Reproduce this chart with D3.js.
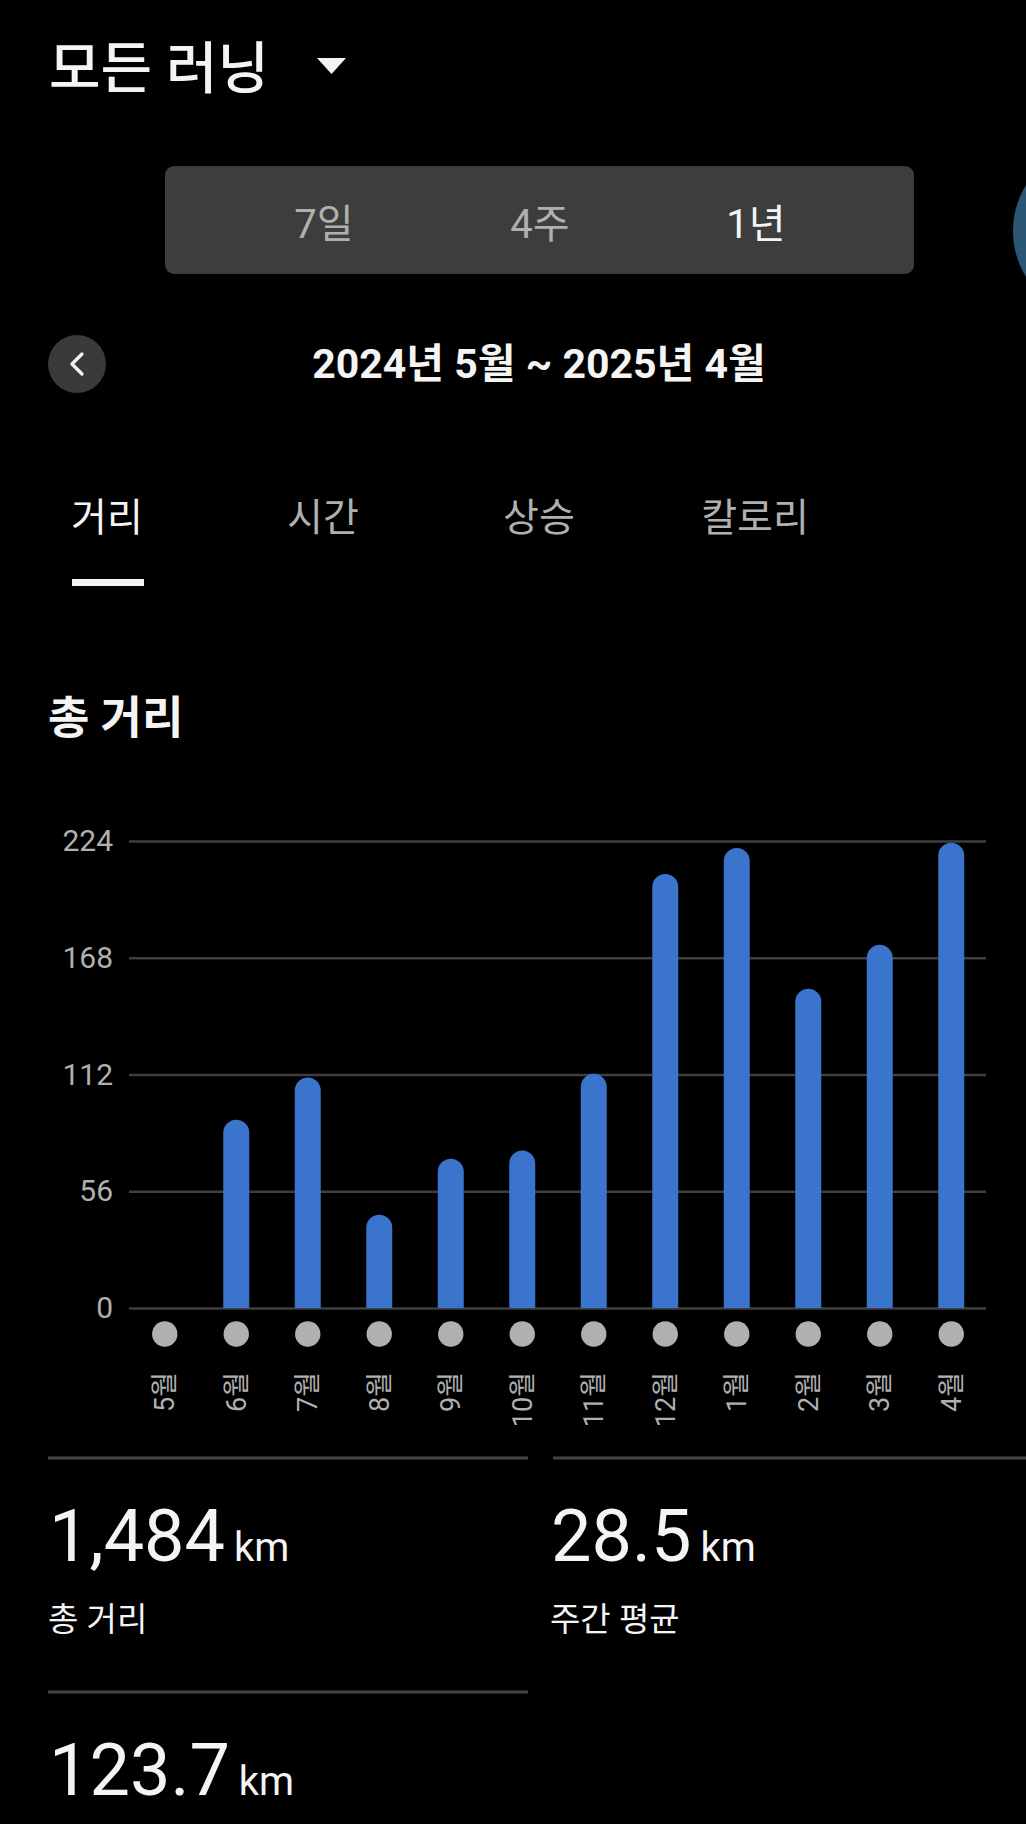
<!DOCTYPE html>
<html>
<head>
<meta charset="utf-8">
<script src="https://cdn.jsdelivr.net/npm/d3@7"></script>
<style>
  html, body { margin: 0; padding: 0; background: #000; }
  svg { display: block; }
  text { font-family: Roboto, "Noto Sans CJK KR", sans-serif; }
</style>
</head>
<body>
<svg id="chart" width="1026" height="1824"></svg>
<script>
// ---- data ----
const months = ["5월","6월","7월","8월","9월","10월","11월","12월","1월","2월","3월","4월"];
const distances = [0, 90.3, 110.6, 44.7, 71.6, 75.6, 112.3, 208.2, 220.7, 153.1, 174.2, 223.2];
const yTicks = [0, 56, 112, 168, 224];
const periodTabs = ["7일", "4주", "1년"];
const metricTabs = ["거리", "시간", "상승", "칼로리"];
const statValues = ["1,484", "28.5", "123.7"];
const statUnits = ["km", "km", "km"];
const statLabels = ["총 거리", "주간 평균", ""];

const svg = d3.select("#chart");
const WHITE = "#f4f4f4", GREY = "#b0b0b0";

// ---- header ----
svg.append("text").attr("x", 49).attr("y", 88)
  .attr("font-size", 56).attr("font-weight", 500).attr("fill", WHITE).text("모든 러닝");
svg.append("path").attr("d", "M317,58 L346,58 L331.5,74 Z").attr("fill", WHITE);

// segmented control
svg.append("rect").attr("x", 165).attr("y", 166).attr("width", 749).attr("height", 108)
  .attr("rx", 9).attr("fill", "#3d3d3d");
const segX = d3.scalePoint().domain(periodTabs).range([324, 756]);
svg.selectAll("text.seg").data(periodTabs).join("text").attr("class", "seg")
  .attr("x", d => segX(d)).attr("y", 238).attr("text-anchor", "middle")
  .attr("font-size", 40).attr("fill", (d, i) => i === 2 ? WHITE : GREY).text(d => d);

// partial circle on right edge
svg.append("circle").attr("cx", 1101).attr("cy", 231).attr("r", 88).attr("fill", "#2c5676");

// back button
svg.append("circle").attr("cx", 77).attr("cy", 364).attr("r", 29).attr("fill", "#3a3a3a");
svg.append("path").attr("d", "M82,354 L72,364 L82,374").attr("fill", "none")
  .attr("stroke", WHITE).attr("stroke-width", 3.2).attr("stroke-linecap", "round").attr("stroke-linejoin", "round");
svg.append("text").attr("x", 539).attr("y", 378).attr("text-anchor", "middle")
  .attr("font-size", 41).attr("font-weight", 700).attr("fill", WHITE).text("2024년 5월 ~ 2025년 4월");

// metric tabs
const tabX = d3.scalePoint().domain(metricTabs).range([107, 755]);
svg.selectAll("text.tab").data(metricTabs).join("text").attr("class", "tab")
  .attr("x", d => tabX(d)).attr("y", 531).attr("text-anchor", "middle")
  .attr("font-size", 39).attr("fill", (d, i) => i === 0 ? WHITE : GREY).text(d => d);
svg.append("rect").attr("x", 72).attr("y", 579).attr("width", 72).attr("height", 7).attr("fill", WHITE);

svg.append("text").attr("x", 48).attr("y", 734)
  .attr("font-size", 45).attr("font-weight", 700).attr("fill", WHITE).text("총 거리");

// ---- chart ----
const x = d3.scalePoint().domain(months).range([129, 987]).padding(0.5);
const y = d3.scaleLinear().domain([0, 224]).range([1308, 841]);

const yAxis = svg.append("g").attr("transform", "translate(129,0)")
  .call(d3.axisLeft(y).tickValues(yTicks).tickSize(-(986 - 129)).tickPadding(16).tickFormat(d3.format("d")));
yAxis.select(".domain").remove();
yAxis.selectAll(".tick line").attr("stroke", "#3f3f3f").attr("stroke-width", 2.6);
yAxis.selectAll(".tick text").attr("fill", GREY).attr("font-size", 30)
  .attr("font-family", "Roboto, sans-serif");

const bw = 26, r = bw / 2;
svg.append("g").selectAll("path").data(months.map((m, i) => ({ m, v: distances[i] })).filter(d => d.v > 0))
  .join("path")
  .attr("fill", "#3a74cc")
  .attr("d", d => {
    const cx = x(d.m), y0 = y(0), yt = y(d.v);
    return `M${cx - r},${y0} L${cx - r},${yt + r} A${r},${r} 0 0 1 ${cx + r},${yt + r} L${cx + r},${y0} Z`;
  });

// month dots
svg.append("g").selectAll("circle").data(months).join("circle")
  .attr("cx", d => x(d)).attr("cy", 1334).attr("r", 12.7).attr("fill", "#b0b0b0");

// month labels
svg.append("g").selectAll("text").data(months).join("text")
  .attr("transform", d => `translate(${x(d)},1372) rotate(-90)`)
  .attr("text-anchor", "end").attr("dy", "0.36em")
  .attr("font-size", 27).attr("fill", GREY).text(d => d);

// ---- stats ----
const sep = [
  { x1: 48, x2: 528, y: 1458 },
  { x1: 553, x2: 1026, y: 1458 },
  { x1: 48, x2: 528, y: 1692 }
];
svg.append("g").selectAll("line").data(sep).join("line")
  .attr("x1", d => d.x1).attr("x2", d => d.x2).attr("y1", d => d.y).attr("y2", d => d.y)
  .attr("stroke", "#444").attr("stroke-width", 3);

const statPos = [{ x: 49, y: 1561 }, { x: 551, y: 1561 }, { x: 49, y: 1795 }];
statValues.forEach((v, i) => {
  const p = statPos[i];
  const t = svg.append("text").attr("x", p.x).attr("y", p.y)
    .attr("font-size", 72).attr("fill", WHITE).text(v);
  const w = t.node().getComputedTextLength();
  svg.append("text").attr("x", p.x + w + 9).attr("y", p.y)
    .attr("font-size", 40).attr("fill", WHITE).text(statUnits[i]);
  if (statLabels[i]) {
    svg.append("text").attr("x", p.x - 1).attr("y", p.y + 70)
      .attr("font-size", 33).attr("fill", WHITE).text(statLabels[i]);
  }
});
</script>
</body>
</html>
